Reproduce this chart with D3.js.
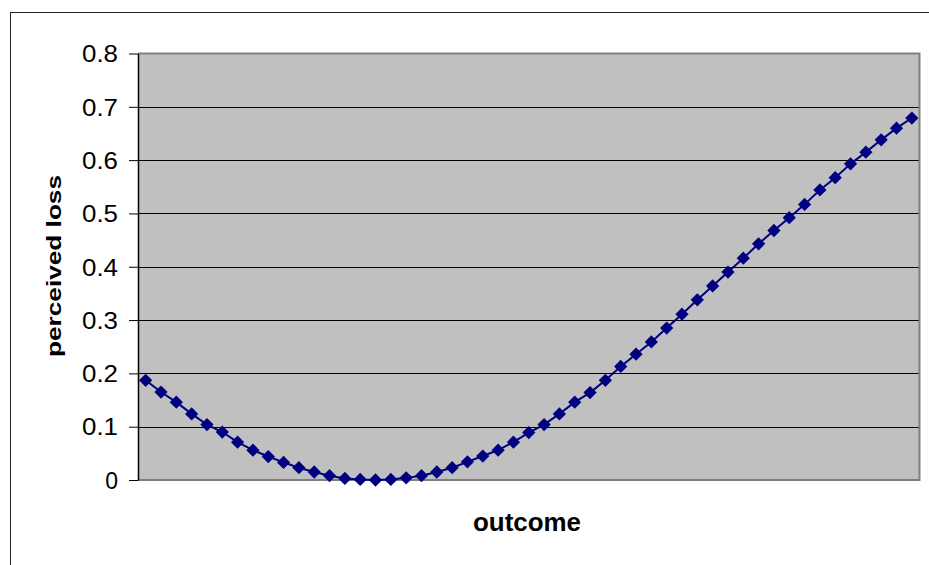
<!DOCTYPE html>
<html>
<head>
<meta charset="utf-8">
<script src="https://cdn.jsdelivr.net/npm/d3@7"></script>
<style>
  html, body { margin: 0; padding: 0; background: #fff; }
  svg { display: block; }
  text { font-family: "Liberation Sans", Arial, sans-serif; }
</style>
</head>
<body>
<svg id="chart" width="929" height="565"></svg>
<script>
// Outcome index (51 evenly spaced outcomes, no axis labels shown)
const categories = d3.range(51);
// Perceived loss for each outcome
const lossValues = [
  0.187, 0.165, 0.146, 0.124, 0.104, 0.090, 0.071, 0.056, 0.044, 0.033,
  0.023, 0.015, 0.008, 0.003, 0.001, 0.000, 0.001, 0.004, 0.008, 0.015,
  0.023, 0.034, 0.045, 0.056, 0.071, 0.089, 0.104, 0.124, 0.146, 0.164,
  0.187, 0.213, 0.236, 0.259, 0.285, 0.311, 0.338, 0.364, 0.390, 0.416,
  0.443, 0.468, 0.492, 0.517, 0.544, 0.567, 0.593, 0.615, 0.638, 0.660,
  0.679
];
const yTicks = [0, 0.1, 0.2, 0.3, 0.4, 0.5, 0.6, 0.7, 0.8];
const yTitle = "perceived loss";
const xTitle = "outcome";

const svg = d3.select("#chart");
const plot = { left: 138, top: 53.5, right: 919.5, bottom: 480 };

// Outer chart frame (runs off the right and bottom edges)
svg.append("rect")
  .attr("x", 10.5).attr("y", 12.5)
  .attr("width", 940).attr("height", 580)
  .attr("fill", "#fff").attr("stroke", "#222").attr("stroke-width", 1);

const x = d3.scaleBand().domain(categories).range([plot.left, plot.right]);
const y = d3.scaleLinear().domain([0, 0.8]).range([plot.bottom, plot.top]);

// Plot area background
svg.append("rect")
  .attr("x", plot.left).attr("y", plot.top)
  .attr("width", plot.right - plot.left).attr("height", plot.bottom - plot.top)
  .attr("fill", "#c0c0c0");

// Horizontal gridlines
svg.append("g")
  .selectAll("line")
  .data(yTicks.filter(t => t > 0 && t < 0.8))
  .join("line")
  .attr("x1", plot.left).attr("x2", plot.right)
  .attr("y1", d => Math.round(y(d)) + 0.5).attr("y2", d => Math.round(y(d)) + 0.5)
  .attr("stroke", "#000").attr("stroke-width", 1);

// Plot area border (top, right, bottom)
svg.append("path")
  .attr("d", `M${plot.left},${plot.top}H${plot.right}V${plot.bottom}H${plot.left}`)
  .attr("fill", "none").attr("stroke", "#808080").attr("stroke-width", 2);

// Y axis
const yAxis = d3.axisLeft(y)
  .tickValues(yTicks)
  .tickFormat(d => d === 0 ? "0" : d3.format(".1f")(d))
  .tickSizeInner(9).tickSizeOuter(0).tickPadding(11);

const gy = svg.append("g")
  .attr("transform", `translate(${plot.left},0)`)
  .call(yAxis);
gy.select(".domain").attr("stroke", "#000").attr("stroke-width", 1.5);
gy.selectAll(".tick line").attr("stroke", "#000");
gy.selectAll(".tick text")
  .attr("fill", "#000")
  .style("font-size", "23px")
  .attr("dy", "0.36em")
  .each(function(d) {
    if (d !== 0) d3.select(this).attr("textLength", 36).attr("lengthAdjust", "spacingAndGlyphs");
  });

// Series line
const line = d3.line()
  .x((d, i) => x(categories[i]) + x.bandwidth() / 2)
  .y(d => y(d));

svg.append("path")
  .datum(lossValues)
  .attr("d", line)
  .attr("fill", "none")
  .attr("stroke", "#000080")
  .attr("stroke-width", 2);

// Diamond markers
const diamond = d3.symbol().type(d3.symbolSquare).size(88);
svg.append("g")
  .selectAll("path")
  .data(lossValues)
  .join("path")
  .attr("d", diamond)
  .attr("transform", (d, i) =>
    `translate(${x(categories[i]) + x.bandwidth() / 2},${y(d)}) rotate(45)`)
  .attr("fill", "#000080");

// Axis titles
svg.append("text")
  .attr("transform", `translate(61,266) rotate(-90)`)
  .attr("text-anchor", "middle")
  .attr("textLength", 182).attr("lengthAdjust", "spacingAndGlyphs")
  .style("font-size", "21px").style("font-weight", "bold")
  .text(yTitle);

svg.append("text")
  .attr("x", 527).attr("y", 531)
  .attr("text-anchor", "middle")
  .attr("textLength", 108).attr("lengthAdjust", "spacingAndGlyphs")
  .style("font-size", "25px").style("font-weight", "bold")
  .text(xTitle);
</script>
</body>
</html>
